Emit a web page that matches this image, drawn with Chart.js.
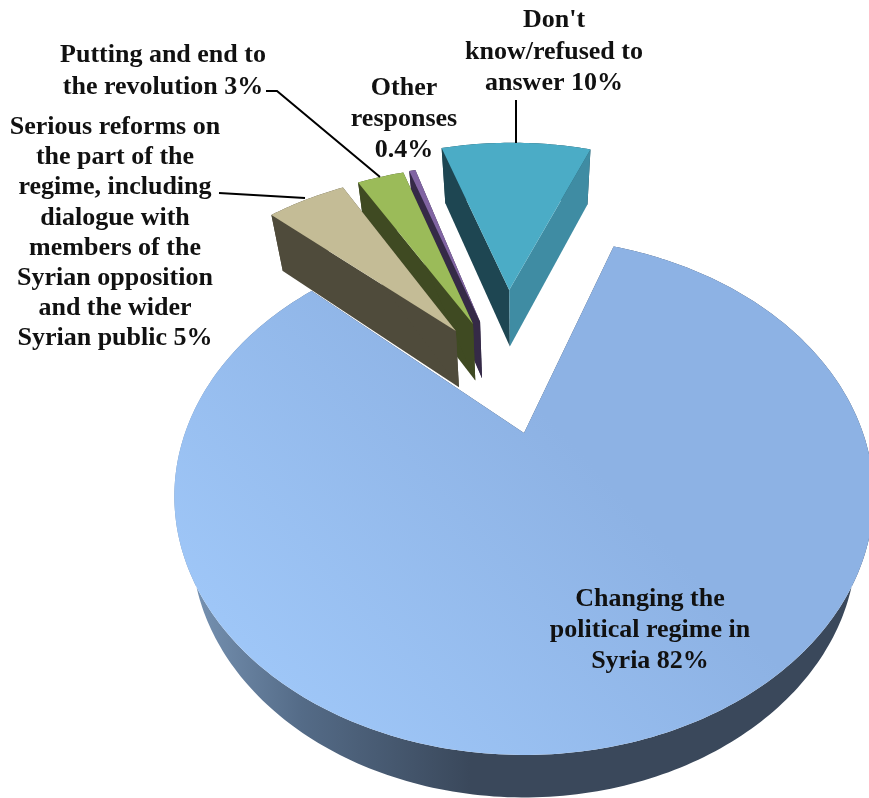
<!DOCTYPE html>
<html>
<head>
<meta charset="utf-8">
<title>Syria opinion pie</title>
<style>
  html, body { margin: 0; padding: 0; background: #ffffff; }
  canvas { display: block; }
</style>
<script src="https://cdn.jsdelivr.net/npm/chart.js@4/dist/chart.umd.js"></script>
</head>
<body>
<canvas id="pie" width="869" height="798"></canvas>
<script>
// Survey shares, clockwise from the large slice
const categories = [
  "Changing the political regime in Syria",
  "Serious reforms on the part of the regime, including dialogue with members of the Syrian opposition and the wider Syrian public",
  "Putting and end to the revolution",
  "Other responses",
  "Don't know/refused to answer"
];
const shares = [82, 5, 3, 0.4, 10];

const labelLines = [
  ["Changing the", "political regime in", "Syria 82%"],
  ["Serious reforms on", "the part of the", "regime, including", "dialogue with", "members of the", "Syrian opposition", "and the wider", "Syrian public 5%"],
  ["Putting and end to", "the revolution 3%"],
  ["Other", "responses", "0.4%"],
  ["Don't", "know/refused to", "answer 10%"]
];

// Slice styling
const faceColors = ["#8eb4e3", "#c4bc96", "#9bbb59", "#8064a2", "#4bacc6"];
const startWallColors = ["#384659", "#4f4b3b", "#3f4a22", "#352a47", "#1e4652"];
const endWallColors = ["#384659", "#4f4b3b", "#3f4a22", "#352a47", "#3f8ca3"];
const rimColors = ["#384659", "#4f4b3b", "#3f4a22", "#352a47", "#1e4652"];

// Exploded offset of each slice on the pie plane, in radius units
const explode = [[0, 0], [-0.224, -0.468], [-0.169, -0.504], [-0.146, -0.515], [-0.051, -0.688]];
// Painted back to front
const paintOrder = [0, 4, 3, 2, 1];

// Where each label block sits: centre x, first baseline, line gap
const labelPlacement = [
  [650, 606, 31],
  [115, 134, 30.2],
  [163, 62, 32],
  [404, 95, 31],
  [554, 27, 31.5]
];
const leaderLines = [
  [[516, 100], [516, 143]],
  [[266, 91], [277, 91], [380, 177]],
  [[219, 193], [305, 198]]
];

// Tilted-plane projection of the pie
const TILT = 0.717;
const PERSPECTIVE = 0.245;
const BASE_SCALE = 0.955;

function project(cx, cy, R, u, v) {
  const s = 1 / (1 - PERSPECTIVE * v);
  return { X: R * u * s, Y: R * TILT * v * s, cx, cy };
}
function topPoint(p) {
  return [p.cx + p.X, p.cy + p.Y];
}
function basePoint(p) {
  const depth = 56.5 - 0.0000656 * (p.Y + 140) * (p.Y + 140);
  const shrink = BASE_SCALE - 0.00008 * Math.max(p.Y, 0);
  return [p.cx + p.X * shrink, p.cy + p.Y + depth];
}

function fillPolygon(ctx, pts, fill) {
  ctx.beginPath();
  pts.forEach((q, i) => i ? ctx.lineTo(q[0], q[1]) : ctx.moveTo(q[0], q[1]));
  ctx.closePath();
  ctx.fillStyle = fill;
  ctx.fill();
}

class Arc3D extends Chart.ArcElement {
  static id = "arc3d";

  draw(ctx) {
    const { x, y, startAngle, endAngle, outerRadius } = this.getProps(["x", "y", "startAngle", "endAngle", "outerRadius"]);
    const i = this.$context.dataIndex;
    const [ou, ov] = explode[i];
    const R = outerRadius;
    const steps = Math.max(4, Math.ceil((endAngle - startAngle) * 60));
    const rim = [];
    for (let k = 0; k <= steps; k++) {
      const a = startAngle + (endAngle - startAngle) * k / steps;
      rim.push(project(x, y, R, ou + Math.cos(a), ov + Math.sin(a)));
    }
    const apex = project(x, y, R, ou, ov);
    const first = rim[0];
    const last = rim[rim.length - 1];

    let rimFill = rimColors[i];
    let faceFill = this.options.backgroundColor;
    if (i === 0) {
      rimFill = ctx.createLinearGradient(190, 0, 470, 0);
      rimFill.addColorStop(0, "#7793b3");
      rimFill.addColorStop(0.4, "#546b87");
      rimFill.addColorStop(1, "#3a485b");
      faceFill = ctx.createLinearGradient(270, 700, 560, 430);
      faceFill.addColorStop(0, "#9fc7f8");
      faceFill.addColorStop(1, "#8db2e4");
    }

    // Outer wall, radial walls, then the top face over them
    fillPolygon(ctx, rim.map(topPoint).concat(rim.map(basePoint).reverse()), rimFill);
    fillPolygon(ctx, [topPoint(apex), topPoint(first), basePoint(first), basePoint(apex)], startWallColors[i]);
    fillPolygon(ctx, [topPoint(apex), topPoint(last), basePoint(last), basePoint(apex)], endWallColors[i]);
    fillPolygon(ctx, [topPoint(apex)].concat(rim.map(topPoint)), faceFill);
  }
}

class Pie3DController extends Chart.PieController {
  static id = "pie3d";
  static defaults = { dataElementType: "arc3d" };

  draw() {
    const ctx = this.chart.ctx;
    const elements = this.getMeta().data;
    paintOrder.forEach(i => elements[i].draw(ctx));
  }
}

Chart.register(Arc3D, Pie3DController);

const calloutPlugin = {
  id: "callouts",
  afterDatasetsDraw(chart) {
    const ctx = chart.ctx;
    ctx.save();
    ctx.strokeStyle = "#000000";
    ctx.lineWidth = 2;
    leaderLines.forEach(line => {
      ctx.beginPath();
      line.forEach((q, i) => i ? ctx.lineTo(q[0], q[1]) : ctx.moveTo(q[0], q[1]));
      ctx.stroke();
    });
    ctx.fillStyle = "#111111";
    ctx.font = 'bold 26px "Liberation Serif"';
    ctx.textAlign = "center";
    ctx.textBaseline = "alphabetic";
    labelLines.forEach((lines, i) => {
      const [cx, base, gap] = labelPlacement[i];
      lines.forEach((text, k) => ctx.fillText(text, cx, base + k * gap));
    });
    ctx.restore();
  }
};

new Chart(document.getElementById("pie"), {
  type: "pie3d",
  data: {
    labels: categories,
    datasets: [{ data: shares, backgroundColor: faceColors, borderWidth: 0 }]
  },
  options: {
    responsive: false,
    animation: false,
    rotation: 19,
    events: [],
    layout: { padding: { left: 185, right: 6, top: 94, bottom: 26 } },
    plugins: { legend: { display: false }, tooltip: { enabled: false } }
  },
  plugins: [calloutPlugin]
});
</script>
</body>
</html>
